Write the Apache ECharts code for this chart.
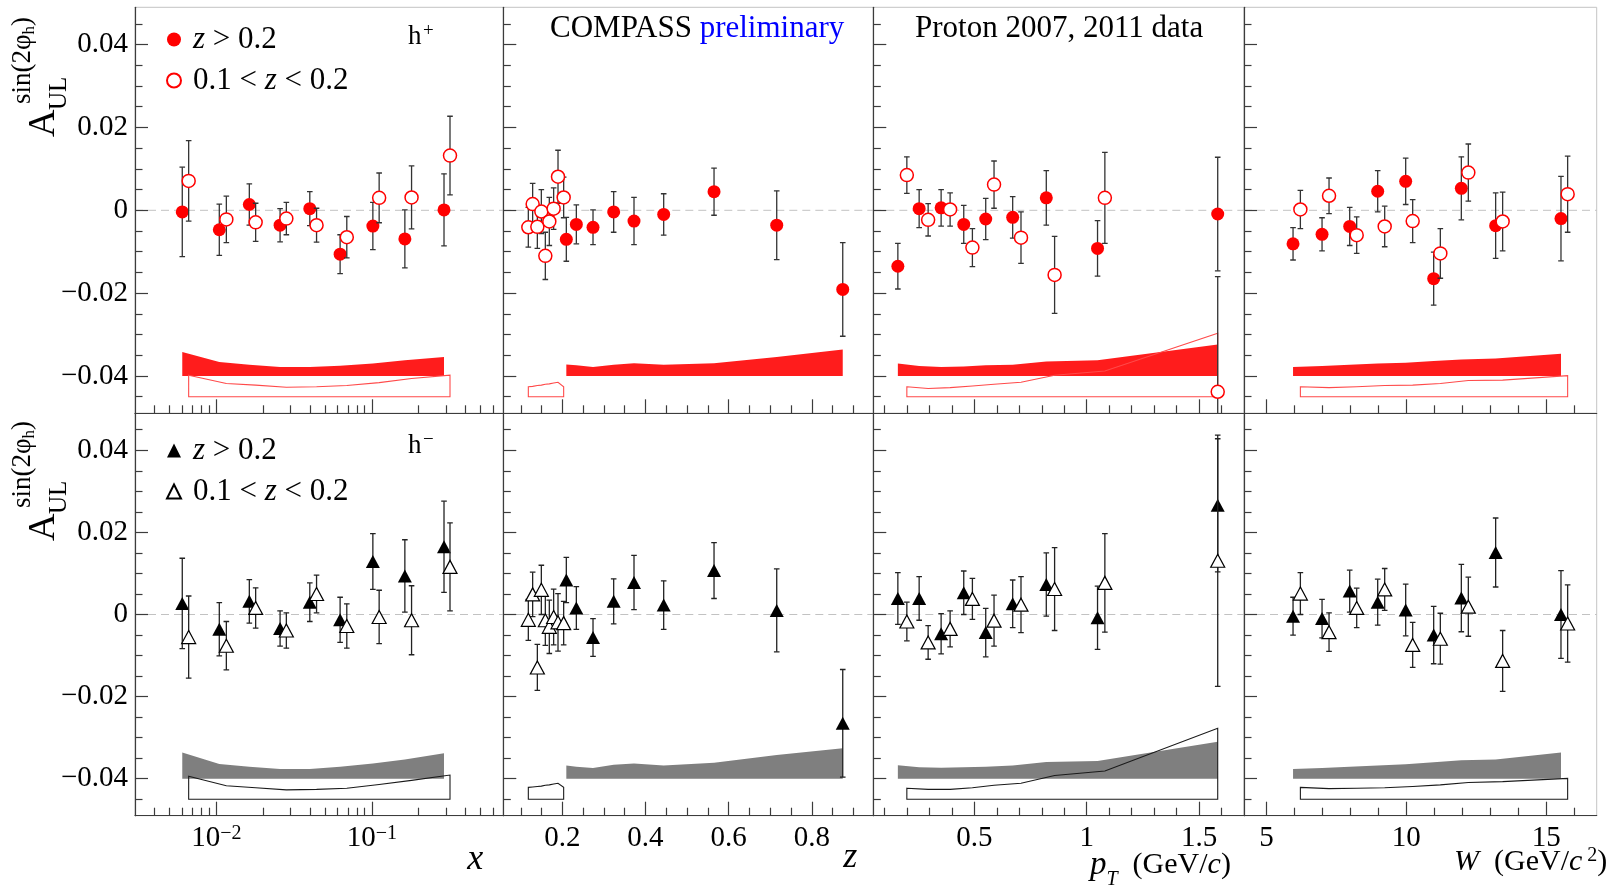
<!DOCTYPE html>
<html><head><meta charset="utf-8">
<script src="https://cdn.jsdelivr.net/npm/echarts@6/dist/echarts.min.js"></script>
<style>html,body{margin:0;padding:0;background:#fff}#c{width:1608px;height:886px}</style>
</head><body><div id="c"></div><script>
const FONT = '"Liberation Serif", "Times New Roman", serif';

// ---------- tick values ----------
const yMajorTicks = [-0.04, -0.02, 0, 0.02, 0.04];
const yMinorTicks = [-0.045, -0.035, -0.03, -0.025, -0.015, -0.01, -0.005, 0.005, 0.01, 0.015, 0.025, 0.03, 0.035, 0.045];
const xMajorTicks = [0.01, 0.1];
const xMinorTicks = [0.004, 0.005, 0.006, 0.007, 0.008, 0.009, 0.02, 0.03, 0.04, 0.05, 0.06, 0.07, 0.08, 0.09, 0.2, 0.3, 0.4, 0.5, 0.6];
const zMajorTicks = [0.2, 0.4, 0.6, 0.8];
const zMinorTicks = [0.1, 0.15, 0.25, 0.3, 0.35, 0.45, 0.5, 0.55, 0.65, 0.7, 0.75, 0.85, 0.9];
const ptMajorTicks = [0.5, 1, 1.5];
const ptMinorTicks = [0.1, 0.2, 0.3, 0.4, 0.6, 0.7, 0.8, 0.9, 1.1, 1.2, 1.3, 1.4, 1.6];
const wMajorTicks = [5, 10, 15];
const wMinorTicks = [6, 7, 8, 9, 11, 12, 13, 14, 16];

// ---------- bin positions ----------
const xBinsHi = [0.00604, 0.01045, 0.0163, 0.0257, 0.0399, 0.0625, 0.1015, 0.163, 0.291];
const xBinsLo = [0.00664, 0.0116, 0.0179, 0.0282, 0.0441, 0.069, 0.1114, 0.180, 0.318];
const zBinsHi = [0.2096, 0.2337, 0.2738, 0.3235, 0.3724, 0.4438, 0.5649, 0.7157, 0.8745];
const zBinsLo = [0.1182, 0.1286, 0.1399, 0.1495, 0.1591, 0.1687, 0.1791, 0.1896, 0.2032];
const ptBinsHi = [0.1593, 0.2541, 0.3519, 0.4526, 0.5504, 0.6704, 0.82, 1.0481, 1.583];
const ptBinsLo = [0.1993, 0.2941, 0.3919, 0.4911, 0.5874, 0.7074, 0.857, 1.0807, 1.583];
const wBinsHi = [5.952, 6.988, 7.976, 8.976, 9.976, 10.976, 11.964, 13.19, 15.524];
const wBinsLo = [6.214, 7.238, 8.226, 9.226, 10.226, 11.214, 12.214, 13.44, 15.762];

// ---------- h+ ----------
const posX_hi    = [-0.0004, -0.0047, 0.0014, -0.0036, 0.0004, -0.0106, -0.0038, -0.0069, 0.0001];
const posX_hiErr = [0.0108, 0.0062, 0.005, 0.004, 0.0041, 0.0047, 0.0057, 0.007, 0.0087];
const posX_hiSys = [0.0058, 0.0034, 0.0027, 0.0022, 0.0022, 0.0025, 0.003, 0.0038, 0.0046];
const posX_lo    = [0.0071, -0.0022, -0.0029, -0.002, -0.0036, -0.0065, 0.003, 0.0031, 0.0132];
const posX_loErr = [0.0097, 0.0056, 0.0046, 0.0039, 0.0041, 0.005, 0.006, 0.0076, 0.0095];
const posX_loSys = [0.0052, 0.0032, 0.0028, 0.0023, 0.0024, 0.0027, 0.0034, 0.0044, 0.0052];

const posZ_hi    = [-0.007, -0.0034, -0.0041, -0.0004, -0.0026, -0.001, 0.0045, -0.0036, -0.0191];
const posZ_hiErr = [0.0053, 0.0047, 0.0042, 0.0049, 0.0057, 0.005, 0.0057, 0.0083, 0.0113];
const posZ_hiSys = [0.0028, 0.0026, 0.0022, 0.0027, 0.0031, 0.0027, 0.0031, 0.0046, 0.0064];
const posZ_lo    = [-0.0041, 0.0015, -0.004, -0.0003, -0.011, -0.0027, 0.0004, 0.0081, 0.0031];
const posZ_loErr = [0.0048, 0.005, 0.0052, 0.0053, 0.0057, 0.0058, 0.005, 0.0064, 0.0049];
const posZ_loSys = [0.0024, 0.0025, 0.0027, 0.0028, 0.003, 0.0031, 0.0033, 0.0035, 0.0024];

const posPt_hi    = [-0.0135, 0.0004, 0.0006, -0.0034, -0.0021, -0.0017, 0.003, -0.0092, -0.0009];
const posPt_hiErr = [0.0055, 0.0046, 0.0044, 0.0046, 0.005, 0.005, 0.0066, 0.0067, 0.0137];
const posPt_hiSys = [0.003, 0.0024, 0.0022, 0.0023, 0.0026, 0.0027, 0.0035, 0.0038, 0.0076];
const posPt_lo    = [0.0085, -0.0023, 0.0002, -0.009, 0.0062, -0.0066, -0.0156, 0.003, -0.0438];
const posPt_loErr = [0.0044, 0.0039, 0.004, 0.0046, 0.0057, 0.0062, 0.0093, 0.011, 0.0278];
const posPt_loSys = [0.0024, 0.002, 0.0022, 0.0026, 0.003, 0.0035, 0.0052, 0.0062, 0.0153];

const posW_hi    = [-0.0081, -0.0058, -0.0039, 0.0046, 0.007, -0.0165, 0.0053, -0.0037, -0.002];
const posW_hiErr = [0.0039, 0.004, 0.0046, 0.005, 0.0056, 0.0064, 0.0076, 0.0079, 0.0102];
const posW_hiSys = [0.0022, 0.0024, 0.0027, 0.003, 0.0032, 0.0036, 0.004, 0.0042, 0.0054];
const posW_lo    = [0.0002, 0.0035, -0.006, -0.0039, -0.0026, -0.0104, 0.0091, -0.0027, 0.0039];
const posW_loErr = [0.0046, 0.0043, 0.0044, 0.0049, 0.0052, 0.006, 0.0069, 0.0071, 0.0092];
const posW_loSys = [0.0024, 0.0022, 0.0024, 0.0027, 0.0028, 0.0032, 0.0039, 0.004, 0.0051];

// ---------- h- ----------
const negX_hi    = [0.0027, -0.0036, 0.0032, -0.0034, 0.003, -0.0013, 0.0129, 0.0094, 0.0165];
const negX_hiErr = [0.011, 0.0065, 0.0053, 0.0043, 0.0047, 0.0055, 0.0068, 0.0088, 0.0111];
const negX_hiSys = [0.0064, 0.0036, 0.0029, 0.0024, 0.0024, 0.0029, 0.0037, 0.0047, 0.0062];
const negX_lo    = [-0.0055, -0.0076, 0.0016, -0.0039, 0.005, -0.0028, -0.0006, -0.0014, 0.0116];
const negX_loErr = [0.01, 0.0059, 0.0049, 0.0043, 0.0046, 0.0054, 0.0065, 0.0084, 0.0107];
const negX_loSys = [0.0056, 0.0033, 0.0028, 0.0023, 0.0024, 0.0027, 0.0036, 0.0046, 0.0059];

const negZ_hi    = [0.0084, 0.0016, -0.0056, 0.0032, 0.0078, 0.0023, 0.0107, 0.001, -0.0265];
const negZ_hiErr = [0.0055, 0.0052, 0.0046, 0.0055, 0.0066, 0.0059, 0.0068, 0.0101, 0.0131];
const negZ_hiSys = [0.0032, 0.0029, 0.0026, 0.0034, 0.0037, 0.0032, 0.0039, 0.0058, 0.0074];
const negZ_lo    = [-0.0013, 0.0049, -0.0129, 0.006, -0.0014, -0.003, -0.0006, -0.0019, -0.0021];
const negZ_loErr = [0.005, 0.0054, 0.0056, 0.006, 0.0061, 0.0065, 0.0068, 0.007, 0.0053];
const negZ_loSys = [0.0029, 0.003, 0.0031, 0.0032, 0.0034, 0.0035, 0.0037, 0.0039, 0.0029];

const negPt_hi    = [0.0039, 0.0039, -0.0047, 0.0053, -0.0044, 0.0026, 0.0073, -0.0008, 0.0266];
const negPt_hiErr = [0.0063, 0.0053, 0.0049, 0.0053, 0.0059, 0.0058, 0.0077, 0.0077, 0.0162];
const negPt_hiSys = [0.0033, 0.0028, 0.0027, 0.0028, 0.0029, 0.0032, 0.0041, 0.0043, 0.009];
const negPt_lo    = [-0.0017, -0.0068, -0.0035, 0.0038, -0.0015, 0.0024, 0.0062, 0.0077, 0.0131];
const negPt_loErr = [0.0047, 0.0041, 0.0044, 0.005, 0.0062, 0.0068, 0.0101, 0.012, 0.0306];
const negPt_loSys = [0.0027, 0.0024, 0.0024, 0.0028, 0.0034, 0.0039, 0.0058, 0.0069, 0.0173];

const negW_hi    = [-0.0004, -0.001, 0.0057, 0.003, 0.0011, -0.005, 0.004, 0.0151, 0.0];
const negW_hiErr = [0.0046, 0.0047, 0.0051, 0.0056, 0.0063, 0.007, 0.0082, 0.0084, 0.0107];
const negW_hiSys = [0.0024, 0.0026, 0.0029, 0.0032, 0.0035, 0.004, 0.0045, 0.0047, 0.0064];
const negW_lo    = [0.0051, -0.0043, 0.0016, 0.0061, -0.0074, -0.0059, 0.0019, -0.0113, -0.0022];
const negW_loErr = [0.0051, 0.0047, 0.0048, 0.0051, 0.0055, 0.0062, 0.0072, 0.0074, 0.0094];
const negW_loSys = [0.0029, 0.0026, 0.0027, 0.0028, 0.0031, 0.0035, 0.0041, 0.0043, 0.0051];

// ---------- layout / styling ----------
const Y_MIN = -0.049, Y_MAX = 0.049;
const SYS_BASE_HI = -0.04, SYS_BASE_LO = -0.045;
const COLS = [[135, 368.3], [503.3, 370], [873.3, 370.7], [1244, 352.7]];
const ROWS = [[7.3, 406], [413.3, 402.4]];
const AX = '#3c3c3c';

const numFmt = v => String(Number(v.toFixed(3)));
const PANELS = [
  { type: 'log', min: 0.003, max: 0.7, major: xMajorTicks, minor: xMinorTicks, binsHi: xBinsHi, binsLo: xBinsLo,
    fmt: v => '{b|10}{s|\u2212' + Math.abs(Math.round(Math.log10(v))) + '}',
    name: 'x', nameGap: -20, nameStyle: { fontStyle: 'italic', fontSize: 36, padding: [26, 0, 0, 0] } },
  { type: 'value', min: 0.058, max: 0.948, major: zMajorTicks, minor: zMinorTicks, binsHi: zBinsHi, binsLo: zBinsLo,
    fmt: numFmt, name: 'z', nameGap: -16, nameStyle: { fontStyle: 'italic', fontSize: 36, padding: [24, 0, 0, 0] } },
  { type: 'value', min: 0.05, max: 1.7, major: ptMajorTicks, minor: ptMinorTicks, binsHi: ptBinsHi, binsLo: ptBinsLo,
    fmt: numFmt, name: '', nameGap: 0, nameStyle: {} },
  { type: 'value', min: 4.2, max: 16.8, major: wMajorTicks, minor: wMinorTicks, binsHi: wBinsHi, binsLo: wBinsLo,
    fmt: numFmt, name: '', nameGap: 0, nameStyle: {} }
];

const ROW_DATA = [
  [ {hi: posX_hi, hiErr: posX_hiErr, hiSys: posX_hiSys, lo: posX_lo, loErr: posX_loErr, loSys: posX_loSys},
    {hi: posZ_hi, hiErr: posZ_hiErr, hiSys: posZ_hiSys, lo: posZ_lo, loErr: posZ_loErr, loSys: posZ_loSys},
    {hi: posPt_hi, hiErr: posPt_hiErr, hiSys: posPt_hiSys, lo: posPt_lo, loErr: posPt_loErr, loSys: posPt_loSys},
    {hi: posW_hi, hiErr: posW_hiErr, hiSys: posW_hiSys, lo: posW_lo, loErr: posW_loErr, loSys: posW_loSys} ],
  [ {hi: negX_hi, hiErr: negX_hiErr, hiSys: negX_hiSys, lo: negX_lo, loErr: negX_loErr, loSys: negX_loSys},
    {hi: negZ_hi, hiErr: negZ_hiErr, hiSys: negZ_hiSys, lo: negZ_lo, loErr: negZ_loErr, loSys: negZ_loSys},
    {hi: negPt_hi, hiErr: negPt_hiErr, hiSys: negPt_hiSys, lo: negPt_lo, loErr: negPt_loErr, loSys: negPt_loSys},
    {hi: negW_hi, hiErr: negW_hiErr, hiSys: negW_hiSys, lo: negW_lo, loErr: negW_loErr, loSys: negW_loSys} ]
];

const ROW_STYLE = [
  { key: 'pos', hiSymbol: 'circle', loSymbol: 'circle', size: 13,
    hiItem: { color: '#ff0000' }, loItem: { color: '#ffffff', borderColor: '#ff0000', borderWidth: 1.5 },
    bandFill: '#ff1c1c', outline: '#ff4a4a', err: '#333333' },
  { key: 'neg', hiSymbol: 'triangle', loSymbol: 'triangle', size: [14, 13],
    hiItem: { color: '#000000' }, loItem: { color: '#ffffff', borderColor: '#000000', borderWidth: 1.2 },
    bandFill: '#7f7f7f', outline: '#1a1a1a', err: '#222222' }
];

const grids = [], xAxes = [], yAxes = [], series = [];

function errSeries(gi, xs, vals, errs, color, z) {
  return {
    type: 'custom', xAxisIndex: gi, yAxisIndex: gi, z: z, clip: true, silent: true,
    data: xs.map((x, i) => [x, vals[i], errs[i]]),
    encode: { x: 0, y: 1 },
    renderItem: function (params, api) {
      const x = api.value(0), y = api.value(1), e = api.value(2);
      const t = api.coord([x, y + e]), b = api.coord([x, y - e]);
      const st = { stroke: color, lineWidth: 1.3 };
      const cw = 2.8;
      return { type: 'group', children: [
        { type: 'line', shape: { x1: t[0], y1: t[1], x2: b[0], y2: b[1] }, style: st },
        { type: 'line', shape: { x1: t[0] - cw, y1: t[1], x2: t[0] + cw, y2: t[1] }, style: st },
        { type: 'line', shape: { x1: b[0] - cw, y1: b[1], x2: b[0] + cw, y2: b[1] }, style: st }
      ] };
    }
  };
}

function bandSeries(gi, xs, sys, base, style, z) {
  return {
    type: 'custom', xAxisIndex: gi, yAxisIndex: gi, z: z, clip: true, silent: true,
    data: xs.map((x, i) => [x, base + sys[i]]),
    encode: { x: 0, y: 1 },
    renderItem: function (params, api) {
      if (params.dataIndex !== 0) return null;
      const pts = xs.map((x, i) => api.coord([x, base + sys[i]]));
      pts.push(api.coord([xs[xs.length - 1], base]));
      pts.push(api.coord([xs[0], base]));
      return { type: 'polygon', shape: { points: pts }, style: style };
    }
  };
}

for (let r = 0; r < 2; r++) {
  for (let c = 0; c < 4; c++) {
    const gi = r * 4 + c;
    const P = PANELS[c], D = ROW_DATA[r][c], S = ROW_STYLE[r];
    grids[gi] = { left: COLS[c][0], top: ROWS[r][0], width: COLS[c][1], height: ROWS[r][1],
      show: true, borderColor: '#c4c4c4', borderWidth: 1, backgroundColor: 'transparent', z: 0,
      containLabel: false, outerBoundsMode: 'none' };
    grids[gi + 8] = { left: COLS[c][0], top: ROWS[r][0], width: COLS[c][1], height: ROWS[r][1], show: false,
      containLabel: false, outerBoundsMode: 'none' };

    const xBase = { type: P.type, min: P.min, max: P.max, splitLine: { show: false }, z: 10 };
    if (P.type === 'log') xBase.logBase = 10;
    xAxes[gi] = Object.assign({}, xBase, {
      gridIndex: gi,
      axisLine: { show: true, onZero: false, lineStyle: { color: AX, width: 1.2 } },
      axisTick: { show: true, inside: true, length: 14, customValues: P.major, lineStyle: { color: AX, width: 1.2 } },
      axisLabel: { show: r === 1, customValues: P.major, formatter: P.fmt, margin: 8,
        fontFamily: FONT, fontSize: 29, color: '#000',
        rich: { b: { fontFamily: FONT, fontSize: 29, lineHeight: 30, color: '#000' },
                s: { fontFamily: FONT, fontSize: 20, lineHeight: 19, verticalAlign: 'top', color: '#000' } } },
      name: r === 1 ? P.name : '', nameLocation: 'end', nameGap: P.nameGap,
      nameTextStyle: Object.assign({ fontFamily: FONT, fontSize: 30, color: '#000', align: 'right', verticalAlign: 'top' }, P.nameStyle)
    });
    xAxes[gi + 8] = Object.assign({}, xBase, {
      gridIndex: gi + 8,
      axisLine: { show: false, onZero: false },
      axisTick: { show: true, inside: true, length: 8, customValues: P.minor, lineStyle: { color: AX, width: 1.2 } },
      axisLabel: { show: false }
    });
    yAxes[gi] = {
      gridIndex: gi, type: 'value', min: Y_MIN, max: Y_MAX, splitLine: { show: false }, z: 10,
      axisLine: { show: true, onZero: false, lineStyle: { color: AX, width: 1.2 } },
      axisTick: { show: true, inside: true, length: 13, customValues: yMajorTicks, lineStyle: { color: AX, width: 1.2 } },
      axisLabel: { show: c === 0, customValues: yMajorTicks, margin: 7, fontFamily: FONT, fontSize: 29, color: '#000',
        formatter: v => Math.abs(v) < 1e-9 ? '0' : (v < 0 ? '\u2212' : '') + Math.abs(v).toFixed(2) }
    };
    yAxes[gi + 8] = {
      gridIndex: gi + 8, type: 'value', min: Y_MIN, max: Y_MAX, splitLine: { show: false }, z: 10,
      axisLine: { show: false, onZero: false },
      axisTick: { show: true, inside: true, length: 7.5, customValues: yMinorTicks, lineStyle: { color: AX, width: 1.2 } },
      axisLabel: { show: false }
    };

    series.push({ type: 'line', xAxisIndex: gi, yAxisIndex: gi, z: 1, silent: true, symbol: 'none',
      data: [[P.min, 0], [P.max, 0]], lineStyle: { color: '#c2c2c2', width: 1, type: [8, 5] } });
    series.push(bandSeries(gi, P.binsHi, D.hiSys, SYS_BASE_HI, { fill: S.bandFill, stroke: null }, 2));
    series.push(bandSeries(gi, P.binsLo, D.loSys, SYS_BASE_LO, { fill: null, stroke: S.outline, lineWidth: 1.1 }, 2));
    series.push(errSeries(gi, P.binsHi, D.hi, D.hiErr, S.err, 3));
    series.push({ type: 'scatter', name: S.key + '_hi_' + c, xAxisIndex: gi, yAxisIndex: gi, z: 4, silent: true,
      symbol: S.hiSymbol, symbolSize: S.size, itemStyle: Object.assign({ opacity: 1 }, S.hiItem),
      data: P.binsHi.map((x, i) => [x, D.hi[i]]) });
    series.push(errSeries(gi, P.binsLo, D.lo, D.loErr, S.err, 5));
    series.push({ type: 'scatter', name: S.key + '_lo_' + c, xAxisIndex: gi, yAxisIndex: gi, z: 6, silent: true,
      symbol: S.loSymbol, symbolSize: S.size, itemStyle: Object.assign({ opacity: 1 }, S.loItem),
      data: P.binsLo.map((x, i) => [x, D.lo[i]]) });
  }
}

const LEGEND_TEXT = {
  pos_hi_0: '{i|z} > 0.2', pos_lo_0: '0.1 < {i|z} < 0.2',
  neg_hi_0: '{i|z} > 0.2', neg_lo_0: '0.1 < {i|z} < 0.2'
};
function legendFor(key, top) {
  return {
    data: [key + '_hi_0', key + '_lo_0'], orient: 'vertical', left: 166, top: top, padding: 0,
    itemWidth: 14, itemHeight: 14, itemGap: 10, selectedMode: false,
    formatter: n => LEGEND_TEXT[n],
    textStyle: { fontFamily: FONT, fontSize: 31, lineHeight: 30, color: '#000', padding: [0, 0, 0, 7],
      rich: { i: { fontFamily: FONT, fontStyle: 'italic', fontSize: 31, lineHeight: 30, color: '#000' } } }
  };
}

function yTitle(ox, oy) {
  return {
    type: 'group', x: ox, y: oy, rotation: Math.PI / 2, silent: true,
    children: [
      { type: 'text', x: 0, y: -13, style: { text: 'A', font: '38px ' + FONT, fill: '#000', align: 'left', verticalAlign: 'middle' } },
      { type: 'text', x: 27, y: 2, style: { text: 'UL', font: '25px ' + FONT, fill: '#000', align: 'left', verticalAlign: 'middle' } },
      { type: 'text', x: 33, y: -34, style: { text: '{a|sin(2\u03c6}{b|h}{a|)}', fill: '#000', align: 'left', verticalAlign: 'middle',
          rich: { a: { fontFamily: FONT, fontSize: 27, lineHeight: 30 },
                  b: { fontFamily: FONT, fontSize: 17, lineHeight: 17, verticalAlign: 'bottom' } } } }
    ]
  };
}
function hLabel(y, sign, sy) {
  return {
    type: 'group', silent: true, children: [
      { type: 'text', x: 408, y: y, style: { text: 'h', font: '27px ' + FONT, fill: '#000', align: 'left', verticalAlign: 'middle' } },
      { type: 'text', x: 423, y: sy, style: { text: sign, font: '19px ' + FONT, fill: '#000', align: 'left', verticalAlign: 'middle' } }
    ]
  };
}
const TITLE_RICH = {
  i: { fontFamily: FONT, fontStyle: 'italic', fontSize: 33, lineHeight: 50, color: '#000' },
  t: { fontFamily: FONT, fontStyle: 'italic', fontSize: 20, lineHeight: 20, verticalAlign: 'bottom', color: '#000' },
  r: { fontFamily: FONT, fontSize: 30, lineHeight: 50, color: '#000' },
  c: { fontFamily: FONT, fontStyle: 'italic', fontSize: 30, lineHeight: 50, color: '#000' }
};
const TITLE_RICH_W = {
  i: { fontFamily: FONT, fontStyle: 'italic', fontSize: 30, lineHeight: 32, color: '#000' },
  r: { fontFamily: FONT, fontSize: 30, lineHeight: 32, color: '#000' },
  c: { fontFamily: FONT, fontStyle: 'italic', fontSize: 30, lineHeight: 32, color: '#000' },
  s: { fontFamily: FONT, fontSize: 20, lineHeight: 20, verticalAlign: 'top', color: '#000' }
};

const option = {
  animation: false,
  backgroundColor: '#ffffff',
  title: [
    { text: '{a|COMPASS} {b|preliminary}', left: 550, top: 13, padding: 0,
      textStyle: { fontFamily: FONT, fontSize: 31, fontWeight: 'normal', color: '#000',
        rich: { a: { fontFamily: FONT, fontSize: 31, color: '#000' }, b: { fontFamily: FONT, fontSize: 31, color: '#0000ff' } } } },
    { text: 'Proton 2007, 2011 data', left: 915, top: 13, padding: 0,
      textStyle: { fontFamily: FONT, fontSize: 31, fontWeight: 'normal', color: '#000' } }
  ],
  legend: [legendFor('pos', 24), legendFor('neg', 435)],
  grid: grids, xAxis: xAxes, yAxis: yAxes, series: series,
  graphic: [
    yTitle(57, 137), yTitle(57, 541),
    hLabel(37, '+', 31), hLabel(446, '\u2212', 440),
    { type: 'text', x: 1090, y: 865, silent: true,
      style: { text: '{i|p}{t|T}{r|  (GeV/}{c|c}{r|)}', rich: TITLE_RICH, align: 'left', verticalAlign: 'middle' } },
    { type: 'text', x: 1454, y: 862, silent: true,
      style: { text: '{i|W}{r|  (GeV/}{c|c}{s| 2}{r|)}', rich: TITLE_RICH_W, align: 'left', verticalAlign: 'middle' } }
  ]
};

const chart = echarts.init(document.getElementById('c'), null, { renderer: 'canvas' });
chart.setOption(option);
</script></body></html>
